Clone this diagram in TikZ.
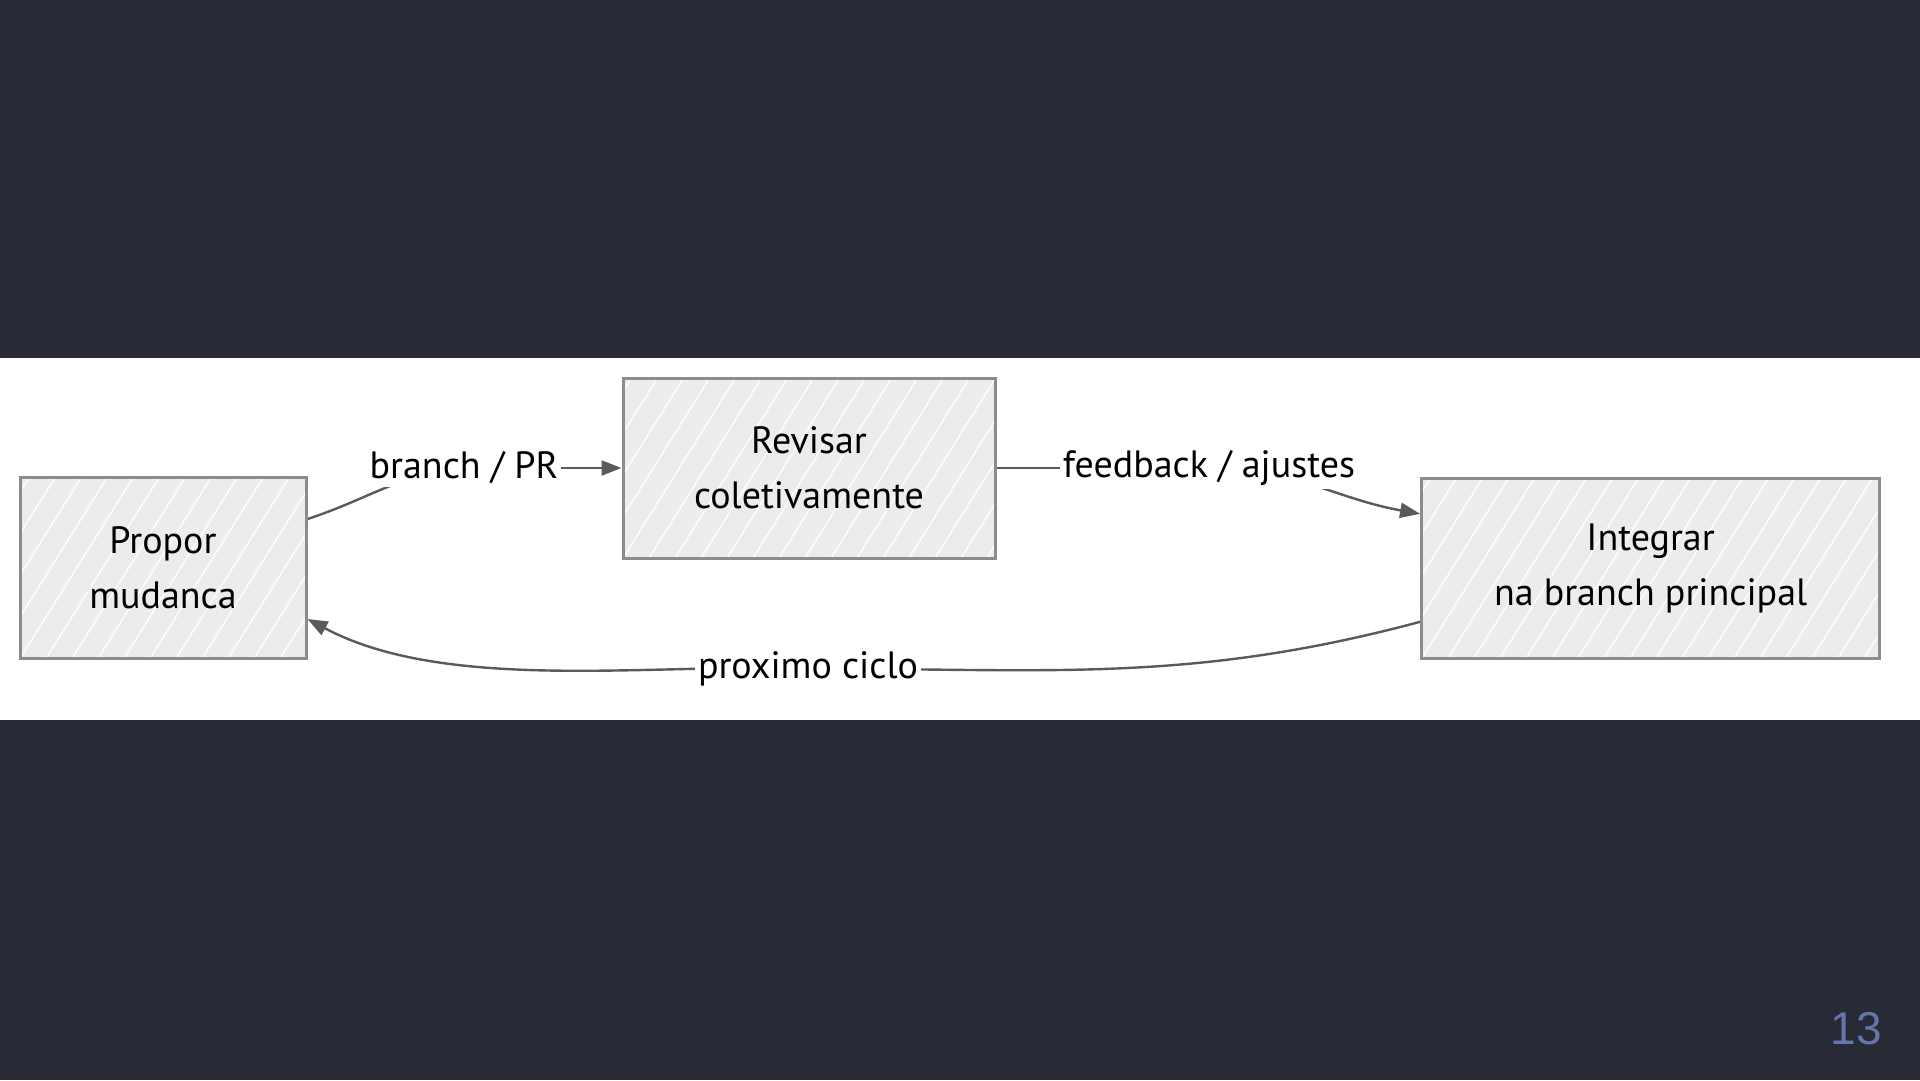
\documentclass[tikz,border=0pt]{standalone}
\usepackage{fontspec}
\setmainfont{PT Sans}
\newfontfamily\pagefont{Liberation Sans}
\usetikzlibrary{calc,arrows.meta}
\definecolor{bgdark}{RGB}{40,42,54}
\definecolor{boxfill}{RGB}{236,236,236}
\definecolor{boxline}{RGB}{140,140,140}
\definecolor{connline}{RGB}{90,90,90}
\definecolor{pagenum}{RGB}{100,118,170}
\pgfdeclarelayer{bg}
\pgfdeclarelayer{lines}
\pgfsetlayers{bg,lines,main}
\tikzset{
  sketchbox/.style={draw=boxline, line width=3pt, fill=boxfill, align=center,
    font=\fontsize{38}{55}\selectfont, inner sep=0pt,
    path picture={
      \foreach \i in {-30,...,30}
        \draw[white, line width=1.2pt]
          ($(path picture bounding box.south west)+(\i*26pt,0pt)$) -- ++(58:500pt);
    }},
  lbl/.style={fill=white, inner sep=3pt, font=\fontsize{38}{40}\selectfont},
  conn/.style={draw=connline, line width=2.4pt, -{Triangle[length=20pt,width=15pt]}},
  connplain/.style={draw=connline, line width=2.4pt}
}
\begin{document}
\begin{tikzpicture}[x=1pt,y=-1pt]
\useasboundingbox (0,0) rectangle (1920,1080);
\begin{pgfonlayer}{bg}
\fill[bgdark] (0,0) rectangle (1920,1080);
\fill[white] (0,357.6) rectangle (1920,720);
\end{pgfonlayer}

\node[sketchbox, minimum width=286pt, minimum height=181pt] (b1) at (163,568) {Propor\\mudanca};
\node[sketchbox, minimum width=372pt, minimum height=180pt] (b2) at (809,468) {Revisar\\coletivamente};
\node[sketchbox, minimum width=458pt, minimum height=180pt] (b3) at (1650.6,568.8) {Integrar\\na branch principal};

\node[lbl] (l1) at (464,468) {branch / PR};
\node[lbl] (l2) at (1209,468) {feedback / ajustes};
\node[lbl] (l3) at (808,668.6) {proximo ciclo};

\node[font=\fontsize{46}{46}\selectfont\pagefont, text=pagenum] (pg) at (1856,1028.6) {13};

\begin{pgfonlayer}{lines}
\draw[connplain] ([yshift=49pt]b1.east) to[out=18,in=185] (l1.center);
\draw[conn] (l1.center) -- (b2.west);
\draw[connplain] (b2.east) -- (l2.center);
\draw[conn] (l2.center) to[out=0,in=170] ([yshift=55pt]b3.west);
\draw[connplain] ([yshift=-53pt]b3.west) to[out=195,in=0] (l3.center);
\draw[conn] (l3.center) to[out=178,in=-28,looseness=0.8] ([yshift=-51pt]b1.east);
\end{pgfonlayer}
\end{tikzpicture}
\end{document}
